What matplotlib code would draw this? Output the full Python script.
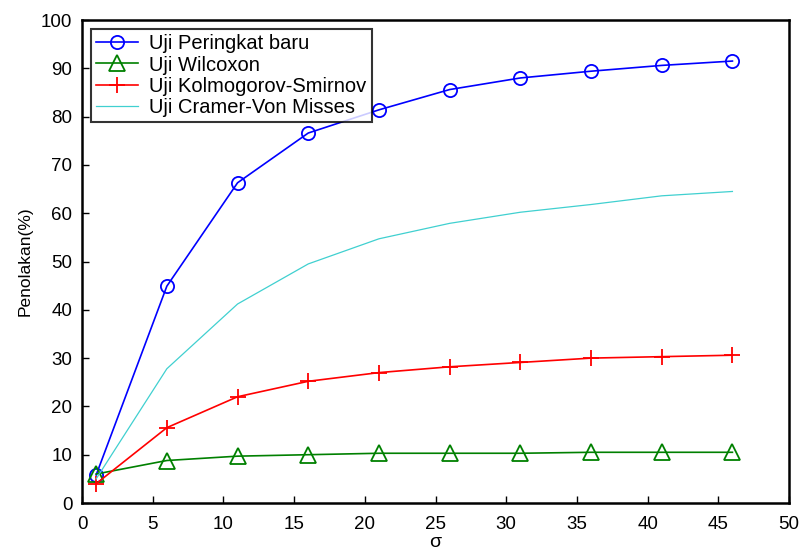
import matplotlib
matplotlib.use("Agg")
import matplotlib.pyplot as plt

# data
sigma = [1, 6, 11, 16, 21, 26, 31, 36, 41, 46]
peringkat = [5.8, 44.9, 66.3, 76.6, 81.4, 85.6, 88.0, 89.4, 90.6, 91.5]
wilcoxon = [6.0, 8.8, 9.7, 10.0, 10.3, 10.3, 10.3, 10.5, 10.5, 10.5]
kolmogorov = [4.0, 15.6, 22.0, 25.2, 27.0, 28.2, 29.1, 30.0, 30.3, 30.6]
cramer = [5.0, 27.8, 41.2, 49.5, 54.7, 57.9, 60.2, 61.8, 63.6, 64.5]

plt.rcParams["font.family"] = ["Liberation Sans", "DejaVu Sans"]

fig = plt.figure(figsize=(8.01, 5.51), dpi=100)
ax = fig.add_axes([0.1024, 0.0871, 0.8826, 0.8766])

ax.plot(sigma, peringkat, color="blue", marker="o", markersize=9.5,
        markerfacecolor="none", markeredgewidth=1.3, lw=1.2, label="Uji Peringkat baru")
ax.plot(sigma, wilcoxon, color="green", marker="^", markersize=11,
        markerfacecolor="none", markeredgewidth=1.3, lw=1.2, label="Uji Wilcoxon")
ax.plot(sigma, kolmogorov, color="red", marker="+", markersize=11,
        markeredgewidth=1.3, lw=1.2, label="Uji Kolmogorov-Smirnov")
ax.plot(sigma, cramer, color="#40d0d0", lw=0.9, label="Uji Cramer-Von Misses")

ax.set_xlim(0, 50)
ax.set_ylim(0, 100)
ax.set_xticks(range(0, 51, 5))
ax.set_yticks(range(0, 101, 10))
ax.tick_params(direction="in", labelsize=13.5, length=5, width=1)
ax.tick_params(axis="x", pad=9)
ax.tick_params(axis="y", pad=7)
for s in ax.spines.values():
    s.set_linewidth(1.8)

ax.set_ylabel("Penolakan(%)", fontsize=12.5, labelpad=6)
ax.set_xlabel("σ", fontsize=14, labelpad=1)

leg = ax.legend(loc="upper left", fontsize=14.5, frameon=True, fancybox=False,
                edgecolor="black", borderaxespad=0.45, handlelength=2.1,
                handletextpad=0.55, labelspacing=0.12, borderpad=0.25)
leg.get_frame().set_linewidth(1.5)

fig.savefig("out.png", dpi=100)
